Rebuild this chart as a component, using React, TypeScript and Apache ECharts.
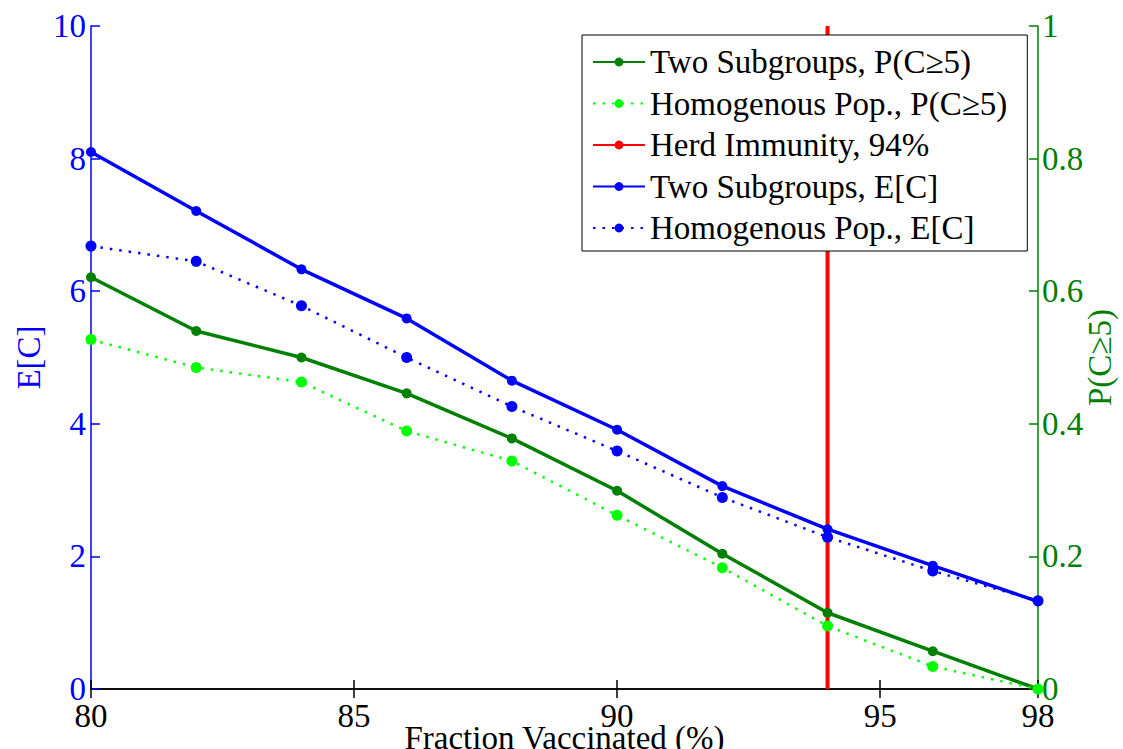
import React, { useEffect, useRef } from "react";
import * as echarts from "echarts";

const xValues = [80, 82, 84, 86, 88, 90, 92, 94, 96, 98];
const twoSubgroupsP = [0.621, 0.54, 0.5, 0.446, 0.378, 0.299, 0.204, 0.115, 0.057, 0.0];
const homogenousP = [0.527, 0.485, 0.463, 0.389, 0.344, 0.262, 0.183, 0.095, 0.034, 0.0];
const twoSubgroupsE = [8.1, 7.21, 6.33, 5.59, 4.65, 3.91, 3.06, 2.41, 1.86, 1.32];
const homogenousE = [6.68, 6.45, 5.78, 5.0, 4.26, 3.59, 2.89, 2.29, 1.78, 1.33];
const herdImmunityX = 94;
const herdImmunityRange = [0, 10];

const seriesNames = [
  "Two Subgroups, P(C\u22655)",
  "Homogenous Pop., P(C\u22655)",
  "Herd Immunity, 94%",
  "Two Subgroups, E[C]",
  "Homogenous Pop., E[C]",
];

const FONT = "Liberation Serif";
const BLUE = "#0000ff";
const DGREEN = "#008000";
const LGREEN = "#00ff00";
const RED = "#ff0000";

const pair = (ys: number[]) => xValues.map((x, i) => [x, ys[i]]);

export default function App() {
  const ref = useRef<HTMLDivElement>(null);
  useEffect(() => {
    document.body.style.margin = "0";
    if (!ref.current) return;
    const chart = echarts.init(ref.current, null, { renderer: "svg" });
    chart.setOption({
      animation: false,
      backgroundColor: "#ffffff",
      textStyle: { fontFamily: FONT },
      grid: {
        left: 91,
        right: 85,
        top: 26,
        bottom: 60,
        containLabel: false,
        outerBoundsMode: "none",
      },
      legend: {
        orient: "vertical",
        left: 582,
        top: 35,
        padding: [10, 20, 6, 10],
        itemGap: 7.5,
        itemWidth: 52,
        itemHeight: 11,
        backgroundColor: "#ffffff",
        borderColor: "#000000",
        borderWidth: 1,
        borderRadius: 0,
        textStyle: { fontFamily: FONT, fontSize: 33, color: "#000", lineHeight: 34 },
        data: seriesNames,
      },
      xAxis: [
        {
          type: "value",
          min: 80,
          max: 98,
          interval: 5,
          position: "bottom",
          name: "Fraction Vaccinated (%)",
          nameLocation: "middle",
          nameGap: 32,
          nameMoveOverlap: false,
          nameTextStyle: { fontFamily: FONT, fontSize: 33, color: "#000" },
          axisLine: { show: true, lineStyle: { color: "#000", width: 1.5 } },
          axisTick: { show: true, inside: true, length: 9, lineStyle: { color: "#000", width: 1.5 } },
          axisLabel: { fontFamily: FONT, fontSize: 33, color: "#000", margin: 10 },
          splitLine: { show: false },
        },
        {
          type: "value",
          min: 80,
          max: 98,
          interval: 5,
          position: "top",
          axisLine: { show: true, lineStyle: { color: "#000", width: 1.5 } },
          axisTick: { show: true, inside: true, length: 9, lineStyle: { color: "#000", width: 1.5 } },
          axisLabel: { show: false },
          splitLine: { show: false },
        },
      ],
      yAxis: [
        {
          type: "value",
          min: 0,
          max: 10,
          interval: 2,
          position: "left",
          name: "E[C]",
          nameLocation: "middle",
          nameRotate: 90,
          nameGap: 46,
          nameMoveOverlap: false,
          nameTextStyle: { fontFamily: FONT, fontSize: 33, color: BLUE },
          axisLine: { show: true, lineStyle: { color: BLUE, width: 1.5 } },
          axisTick: { show: true, inside: true, length: 9, lineStyle: { color: BLUE, width: 1.5 } },
          axisLabel: { fontFamily: FONT, fontSize: 33, color: BLUE, margin: 5 },
          splitLine: { show: false },
        },
        {
          type: "value",
          min: 0,
          max: 1,
          interval: 0.2,
          position: "right",
          name: "P(C\u22655)",
          nameLocation: "middle",
          nameRotate: 90,
          nameGap: 45,
          nameMoveOverlap: false,
          nameTextStyle: { fontFamily: FONT, fontSize: 33, color: DGREEN },
          axisLine: { show: true, lineStyle: { color: DGREEN, width: 1.5 } },
          axisTick: { show: true, inside: true, length: 9, lineStyle: { color: DGREEN, width: 1.5 } },
          axisLabel: {
            fontFamily: FONT,
            fontSize: 33,
            color: DGREEN,
            margin: 4,
            formatter: (v: number) => String(Math.round(v * 10) / 10),
          },
          splitLine: { show: false },
        },
      ],
      series: [
        {
          name: seriesNames[3],
          type: "line",
          xAxisIndex: 0,
          yAxisIndex: 0,
          data: pair(twoSubgroupsE),
          symbol: "circle",
          symbolSize: 10,
          itemStyle: { color: BLUE },
          lineStyle: { color: BLUE, width: 3.5 },
        },
        {
          name: seriesNames[4],
          type: "line",
          xAxisIndex: 0,
          yAxisIndex: 0,
          data: pair(homogenousE),
          symbol: "circle",
          symbolSize: 11,
          itemStyle: { color: BLUE },
          lineStyle: { color: BLUE, width: 2.5, type: [2.5, 7] },
        },
        {
          name: seriesNames[0],
          type: "line",
          xAxisIndex: 0,
          yAxisIndex: 1,
          data: pair(twoSubgroupsP),
          symbol: "circle",
          symbolSize: 10,
          itemStyle: { color: DGREEN },
          lineStyle: { color: DGREEN, width: 3.5 },
        },
        {
          name: seriesNames[1],
          type: "line",
          xAxisIndex: 0,
          yAxisIndex: 1,
          data: pair(homogenousP),
          symbol: "circle",
          symbolSize: 11,
          itemStyle: { color: LGREEN },
          lineStyle: { color: LGREEN, width: 2.5, type: [2.5, 7] },
        },
        {
          name: seriesNames[2],
          type: "line",
          xAxisIndex: 0,
          yAxisIndex: 0,
          data: herdImmunityRange.map((y) => [herdImmunityX, y]),
          symbol: "none",
          itemStyle: { color: RED },
          lineStyle: { color: RED, width: 4 },
          z: 3,
        },
      ],
    });
    return () => chart.dispose();
  }, []);
  return <div ref={ref} style={{ width: 1123, height: 749 }} />;
}
